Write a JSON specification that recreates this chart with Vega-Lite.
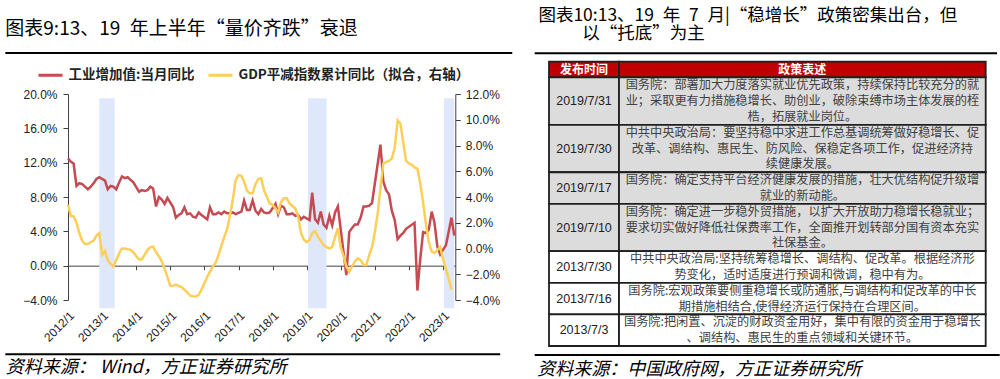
{
  "$schema": "https://vega.github.io/schema/vega-lite/v6.json",
  "background": "white",
  "padding": {"left": 4, "top": 7, "right": 0, "bottom": 0},
  "spacing": 19,
  "config": {
    "view": {"stroke": null},
    "font": "Noto Sans CJK SC",
    "axis": {"labelOverlap": false, "labelBound": false, "labelFlush": false},
    "legend": {"columnPadding": 7, "symbolSize": 580, "labelOffset": 4, "labelFontSize": 13.5}
  },
  "datasets": {
    "ind": [
      {"d":"2012/01/01","v":12.5},{"d":"2012/02/01","v":12.1},{"d":"2012/03/01","v":11.9},{"d":"2012/04/01","v":9.3},{"d":"2012/05/01","v":9.6},{"d":"2012/06/01","v":9.5},{"d":"2012/07/01","v":9.2},{"d":"2012/08/01","v":8.9},{"d":"2012/09/01","v":9.2},{"d":"2012/10/01","v":9.6},{"d":"2012/11/01","v":10.1},{"d":"2012/12/01","v":10.3},
      {"d":"2013/02/01","v":9.9},{"d":"2013/03/01","v":8.9},{"d":"2013/04/01","v":9.3},{"d":"2013/05/01","v":9.2},{"d":"2013/06/01","v":8.9},{"d":"2013/07/01","v":9.7},{"d":"2013/08/01","v":10.4},{"d":"2013/09/01","v":10.2},{"d":"2013/10/01","v":10.3},{"d":"2013/11/01","v":10.0},{"d":"2013/12/01","v":9.7},
      {"d":"2014/02/01","v":8.6},{"d":"2014/03/01","v":8.8},{"d":"2014/04/01","v":8.7},{"d":"2014/05/01","v":8.8},{"d":"2014/06/01","v":9.2},{"d":"2014/07/01","v":9.0},{"d":"2014/08/01","v":6.9},{"d":"2014/09/01","v":8.0},{"d":"2014/10/01","v":7.7},{"d":"2014/11/01","v":7.2},{"d":"2014/12/01","v":7.9},
      {"d":"2015/02/01","v":6.8},{"d":"2015/03/01","v":5.6},{"d":"2015/04/01","v":5.9},{"d":"2015/05/01","v":6.1},{"d":"2015/06/01","v":6.8},{"d":"2015/07/01","v":6.0},{"d":"2015/08/01","v":6.1},{"d":"2015/09/01","v":5.7},{"d":"2015/10/01","v":5.6},{"d":"2015/11/01","v":6.2},{"d":"2015/12/01","v":5.9},
      {"d":"2016/02/01","v":5.4},{"d":"2016/03/01","v":6.8},{"d":"2016/04/01","v":6.0},{"d":"2016/05/01","v":6.0},{"d":"2016/06/01","v":6.2},{"d":"2016/07/01","v":6.0},{"d":"2016/08/01","v":6.3},{"d":"2016/09/01","v":6.1},{"d":"2016/10/01","v":6.1},{"d":"2016/11/01","v":6.2},{"d":"2016/12/01","v":6.0},
      {"d":"2017/02/01","v":6.3},{"d":"2017/03/01","v":7.6},{"d":"2017/04/01","v":6.5},{"d":"2017/05/01","v":6.5},{"d":"2017/06/01","v":7.6},{"d":"2017/07/01","v":6.4},{"d":"2017/08/01","v":6.0},{"d":"2017/09/01","v":6.6},{"d":"2017/10/01","v":6.2},{"d":"2017/11/01","v":6.1},{"d":"2017/12/01","v":6.2},
      {"d":"2018/02/01","v":7.2},{"d":"2018/03/01","v":6.0},{"d":"2018/04/01","v":7.0},{"d":"2018/05/01","v":6.8},{"d":"2018/06/01","v":6.0},{"d":"2018/07/01","v":6.0},{"d":"2018/08/01","v":6.1},{"d":"2018/09/01","v":5.8},{"d":"2018/10/01","v":5.9},{"d":"2018/11/01","v":5.4},{"d":"2018/12/01","v":5.7},
      {"d":"2019/02/01","v":5.3},{"d":"2019/03/01","v":8.5},{"d":"2019/04/01","v":5.4},{"d":"2019/05/01","v":5.0},{"d":"2019/06/01","v":6.3},{"d":"2019/07/01","v":4.8},{"d":"2019/08/01","v":4.4},{"d":"2019/09/01","v":5.8},{"d":"2019/10/01","v":4.7},{"d":"2019/11/01","v":6.2},{"d":"2019/12/01","v":6.9},
      {"d":"2020/03/01","v":-1.1},{"d":"2020/04/01","v":3.9},{"d":"2020/05/01","v":4.4},{"d":"2020/06/01","v":4.8},{"d":"2020/07/01","v":4.8},{"d":"2020/08/01","v":5.6},{"d":"2020/09/01","v":6.9},{"d":"2020/10/01","v":6.9},{"d":"2020/11/01","v":7.0},{"d":"2020/12/01","v":7.3},
      {"d":"2021/03/01","v":14.1},{"d":"2021/04/01","v":9.8},{"d":"2021/05/01","v":8.8},{"d":"2021/06/01","v":8.3},{"d":"2021/07/01","v":6.4},{"d":"2021/08/01","v":5.3},{"d":"2021/09/01","v":3.1},{"d":"2021/10/01","v":3.5},{"d":"2021/11/01","v":3.8},{"d":"2021/12/01","v":4.3},
      {"d":"2022/03/01","v":5.0},{"d":"2022/04/01","v":-2.9},{"d":"2022/05/01","v":0.7},{"d":"2022/06/01","v":3.9},{"d":"2022/07/01","v":3.8},{"d":"2022/08/01","v":4.2},{"d":"2022/09/01","v":6.3},{"d":"2022/10/01","v":5.0},{"d":"2022/11/01","v":2.2},{"d":"2022/12/01","v":1.3},
      {"d":"2023/02/01","v":2.4},{"d":"2023/03/01","v":3.9},{"d":"2023/04/01","v":5.6},{"d":"2023/05/01","v":3.5}
    ],
    "gdp": [
      {"d":"2012/01/01","v":3.4},{"d":"2012/02/01","v":2.5},{"d":"2012/03/01","v":2.5},{"d":"2012/04/01","v":2.0},{"d":"2012/05/01","v":1.2},{"d":"2012/06/01","v":0.6},{"d":"2012/07/01","v":0.35},{"d":"2012/08/01","v":0.35},{"d":"2012/09/01","v":0.5},{"d":"2012/10/01","v":0.6},{"d":"2012/11/01","v":1.0},{"d":"2012/12/01","v":1.2},
      {"d":"2013/01/01","v":-0.5},{"d":"2013/02/01","v":-0.2},{"d":"2013/03/01","v":-0.9},{"d":"2013/04/01","v":-1.2},{"d":"2013/05/01","v":-1.4},{"d":"2013/06/01","v":-0.9},{"d":"2013/07/01","v":-0.4},{"d":"2013/08/01","v":0.0},{"d":"2013/09/01","v":0.0},{"d":"2013/10/01","v":-0.05},{"d":"2013/11/01","v":-0.1},{"d":"2013/12/01","v":-0.3},
      {"d":"2014/01/01","v":-0.6},{"d":"2014/02/01","v":-0.85},{"d":"2014/03/01","v":-0.85},{"d":"2014/04/01","v":-0.5},{"d":"2014/05/01","v":-0.1},{"d":"2014/06/01","v":0.1},{"d":"2014/07/01","v":0.14},{"d":"2014/08/01","v":-0.3},{"d":"2014/09/01","v":-0.6},{"d":"2014/10/01","v":-1.0},{"d":"2014/11/01","v":-1.6},{"d":"2014/12/01","v":-2.2},
      {"d":"2015/01/01","v":-2.9},{"d":"2015/02/01","v":-2.9},{"d":"2015/03/01","v":-2.8},{"d":"2015/04/01","v":-2.9},{"d":"2015/05/01","v":-3.0},{"d":"2015/06/01","v":-3.2},{"d":"2015/07/01","v":-3.4},{"d":"2015/08/01","v":-3.65},{"d":"2015/09/01","v":-3.7},{"d":"2015/10/01","v":-3.72},{"d":"2015/11/01","v":-3.6},{"d":"2015/12/01","v":-3.2},
      {"d":"2016/01/01","v":-2.7},{"d":"2016/02/01","v":-2.2},{"d":"2016/03/01","v":-1.8},{"d":"2016/04/01","v":-1.4},{"d":"2016/05/01","v":-1.1},{"d":"2016/06/01","v":-0.5},{"d":"2016/07/01","v":0.2},{"d":"2016/08/01","v":0.9},{"d":"2016/09/01","v":1.5},{"d":"2016/10/01","v":2.6},{"d":"2016/11/01","v":3.8},{"d":"2016/12/01","v":5.3},
      {"d":"2017/01/01","v":5.7},{"d":"2017/02/01","v":5.65},{"d":"2017/03/01","v":5.2},{"d":"2017/04/01","v":4.5},{"d":"2017/05/01","v":4.3},{"d":"2017/06/01","v":4.3},{"d":"2017/07/01","v":5.0},{"d":"2017/08/01","v":5.4},{"d":"2017/09/01","v":5.45},{"d":"2017/10/01","v":4.5},{"d":"2017/11/01","v":4.0},{"d":"2017/12/01","v":3.5},
      {"d":"2018/01/01","v":3.4},{"d":"2018/02/01","v":3.1},{"d":"2018/03/01","v":2.8},{"d":"2018/04/01","v":3.6},{"d":"2018/05/01","v":3.9},{"d":"2018/06/01","v":3.9},{"d":"2018/07/01","v":3.5},{"d":"2018/08/01","v":3.3},{"d":"2018/09/01","v":3.1},{"d":"2018/10/01","v":2.5},{"d":"2018/11/01","v":1.2},{"d":"2018/12/01","v":0.7},
      {"d":"2019/01/01","v":0.5},{"d":"2019/02/01","v":0.66},{"d":"2019/03/01","v":1.2},{"d":"2019/04/01","v":1.35},{"d":"2019/05/01","v":0.92},{"d":"2019/06/01","v":0.6},{"d":"2019/07/01","v":0.27},{"d":"2019/08/01","v":0.1},{"d":"2019/09/01","v":0.0},{"d":"2019/10/01","v":0.1},{"d":"2019/11/01","v":0.9},{"d":"2019/12/01","v":1.57},
      {"d":"2020/01/01","v":0.1},{"d":"2020/02/01","v":-0.6},{"d":"2020/03/01","v":-1.41},{"d":"2020/04/01","v":-1.8},{"d":"2020/05/01","v":-1.4},{"d":"2020/06/01","v":-1.0},{"d":"2020/07/01","v":-0.76},{"d":"2020/08/01","v":-0.9},{"d":"2020/09/01","v":-1.28},{"d":"2020/10/01","v":-1.28},{"d":"2020/11/01","v":-0.5},{"d":"2020/12/01","v":0.1},
      {"d":"2021/01/01","v":1.3},{"d":"2021/02/01","v":2.8},{"d":"2021/03/01","v":4.7},{"d":"2021/04/01","v":6.6},{"d":"2021/05/01","v":6.7},{"d":"2021/06/01","v":6.8},{"d":"2021/07/01","v":7.0},{"d":"2021/08/01","v":7.8},{"d":"2021/09/01","v":9.95},{"d":"2021/10/01","v":9.7},{"d":"2021/11/01","v":8.2},{"d":"2021/12/01","v":6.8},
      {"d":"2022/01/01","v":6.6},{"d":"2022/02/01","v":6.5},{"d":"2022/03/01","v":6.3},{"d":"2022/04/01","v":6.2},{"d":"2022/05/01","v":5.06},{"d":"2022/06/01","v":3.6},{"d":"2022/07/01","v":1.9},{"d":"2022/08/01","v":0.5},{"d":"2022/09/01","v":-0.25},{"d":"2022/10/01","v":-0.35},{"d":"2022/11/01","v":-0.1},{"d":"2022/12/01","v":0.1},
      {"d":"2023/01/01","v":-0.8},{"d":"2023/02/01","v":-1.6},{"d":"2023/03/01","v":-2.3},{"d":"2023/04/01","v":-3.2}
    ],
    "bands": [
      {"s":"2012/12/01","e":"2013/05/15"},
      {"s":"2019/01/15","e":"2019/08/01"},
      {"s":"2023/01/10","e":"2023/05/01"}
    ],
    "tbl": [
      {"row":0,"ln":1,"kind":"h","date":"发布时间","text":"政策表述"},
      {"row":1,"ln":1,"kind":"g","date":"2019/7/31","text":"国务院：部署加大力度落实就业优先政策，持续保持比较充分的就"},
      {"row":1,"ln":2,"kind":"g","date":"2019/7/31","text":"业；采取更有力措施稳增长、助创业，破除束缚市场主体发展的桎"},
      {"row":1,"ln":3,"kind":"g","date":"2019/7/31","text":"梏，拓展就业岗位。"},
      {"row":2,"ln":1,"kind":"g","date":"2019/7/30","text":"中共中央政治局：要坚持稳中求进工作总基调统筹做好稳增长、促"},
      {"row":2,"ln":2,"kind":"g","date":"2019/7/30","text":"改革、调结构、惠民生、防风险、保稳定各项工作，促进经济持"},
      {"row":2,"ln":3,"kind":"g","date":"2019/7/30","text":"续健康发展。"},
      {"row":3,"ln":1,"kind":"g","date":"2019/7/17","text":"国务院：确定支持平台经济健康发展的措施，壮大优结构促升级增"},
      {"row":3,"ln":2,"kind":"g","date":"2019/7/17","text":"就业的新动能。"},
      {"row":4,"ln":1,"kind":"g","date":"2019/7/10","text":"国务院：确定进一步稳外贸措施，以扩大开放助力稳增长稳就业；"},
      {"row":4,"ln":2,"kind":"g","date":"2019/7/10","text":"要求切实做好降低社保费率工作，全面推开划转部分国有资本充实"},
      {"row":4,"ln":3,"kind":"g","date":"2019/7/10","text":"社保基金。"},
      {"row":5,"ln":1,"kind":"w","date":"2013/7/30","text":"中共中央政治局:坚持统筹稳增长、调结构、促改革。根据经济形"},
      {"row":5,"ln":2,"kind":"w","date":"2013/7/30","text":"势变化，适时适度进行预调和微调，稳中有为。"},
      {"row":6,"ln":1,"kind":"w","date":"2013/7/16","text":"国务院:宏观政策要侧重稳增长或防通胀,与调结构和促改革的中长"},
      {"row":6,"ln":2,"kind":"w","date":"2013/7/16","text":"期措施相结合,使得经济运行保持在合理区间。"},
      {"row":7,"ln":1,"kind":"w","date":"2013/7/3","text":"国务院:把闲置、沉淀的财政资金用好，集中有限的资金用于稳增长"},
      {"row":7,"ln":2,"kind":"w","date":"2013/7/3","text":"、调结构、惠民生的重点领域和关键环节。"}
    ]
  },
  "hconcat": [
    {
      "width": 387.3,
      "height": 206,
      "title": {"text": "图表9:13、19\u2002年上半年“量价齐跌”衰退", "anchor": "start", "frame": "group", "dx": -62.7, "offset": 13, "fontSize": 19, "fontWeight": "normal", "font": "Noto Sans CJK SC", "color": "#000000"},
      "resolve": {"scale": {"x": "independent", "y": "independent", "color": "independent"}},
      "layer": [
        {
          "data": {"name": "bands"},
          "mark": {"type": "rect", "color": "#dfe8fb"},
          "encoding": {
            "x": {"field": "s", "type": "temporal", "scale": {"domain": [{"year": 2012, "month": 1, "date": 1}, {"year": 2023, "month": 5, "date": 12}], "nice": false}, "axis": null},
            "x2": {"field": "e"},
            "y": {"datum": 19.5, "type": "quantitative", "scale": {"domain": [-4, 20], "nice": false, "zero": false}, "axis": null},
            "y2": {"datum": -4.95}
          }
        },
        {
          "data": {"values": [{}]},
          "mark": {"type": "rule", "color": "#000000", "strokeWidth": 2},
          "encoding": {
            "x": {"datum": {"year": 2010, "month": 3, "date": 1}, "type": "temporal", "scale": {"domain": [{"year": 2012, "month": 1, "date": 1}, {"year": 2023, "month": 5, "date": 12}], "nice": false}, "axis": null},
            "x2": {"datum": {"year": 2025, "month": 1, "date": 11}},
            "y": {"datum": 24.78, "type": "quantitative", "scale": {"domain": [-4, 20], "nice": false, "zero": false}, "axis": null}
          }
        },
        {
          "data": {"values": [{}]},
          "mark": {"type": "rule", "color": "#000000", "strokeWidth": 2},
          "encoding": {
            "x": {"datum": {"year": 2010, "month": 3, "date": 1}, "type": "temporal", "scale": {"domain": [{"year": 2012, "month": 1, "date": 1}, {"year": 2023, "month": 5, "date": 12}], "nice": false}, "axis": null},
            "x2": {"datum": {"year": 2024, "month": 9, "date": 4}},
            "y": {"datum": -10.33, "type": "quantitative", "scale": {"domain": [-4, 20], "nice": false, "zero": false}, "axis": null}
          }
        },
        {
          "data": {"name": "ind"},
          "mark": {"type": "line", "strokeWidth": 2.5},
          "encoding": {
            "x": {
              "field": "d", "type": "temporal",
              "scale": {"domain": [{"year": 2012, "month": 1, "date": 1}, {"year": 2023, "month": 5, "date": 12}], "nice": false},
              "axis": {
                "orient": "bottom", "offset": -34.33,
                "values": [{"year": 2012, "month": 1, "date": 1}, {"year": 2013, "month": 1, "date": 1}, {"year": 2014, "month": 1, "date": 1}, {"year": 2015, "month": 1, "date": 1}, {"year": 2016, "month": 1, "date": 1}, {"year": 2017, "month": 1, "date": 1}, {"year": 2018, "month": 1, "date": 1}, {"year": 2019, "month": 1, "date": 1}, {"year": 2020, "month": 1, "date": 1}, {"year": 2021, "month": 1, "date": 1}, {"year": 2022, "month": 1, "date": 1}, {"year": 2023, "month": 1, "date": 1}],
                "format": "%Y/%-m", "formatType": "time",
                "labelAngle": -45, "labelAlign": "right", "labelBaseline": "top", "labelPadding": 40,
                "tickSize": 4, "domainColor": "#404040", "tickColor": "#404040",
                "labelFont": "Liberation Sans", "labelFontSize": 12, "labelColor": "#222222", "labelOverlap": false,
                "grid": false,
                "title": "资料来源： Wind，方正证券研究所",
                "titleX": -62.7, "titleY": 102.3, "titleAlign": "left", "titleBaseline": "middle", "titleAngle": 0,
                "titleFont": "Noto Sans CJK SC", "titleFontSize": 18, "titleFontStyle": "italic", "titleFontWeight": "normal", "titleColor": "#000000"
              }
            },
            "y": {
              "field": "v", "type": "quantitative",
              "scale": {"domain": [-4, 20], "nice": false, "zero": false},
              "axis": {"orient": "left", "values": [-4, 0, 4, 8, 12, 16, 20], "labelExpr": "format(datum.value, '.1f') + '%'", "labelOverlap": false, "tickSize": 5, "labelPadding": 6, "domainColor": "#404040", "tickColor": "#404040", "labelFont": "Liberation Sans", "labelFontSize": 12, "labelColor": "#222222", "grid": false, "title": null}
            },
            "color": {
              "datum": "工业增加值:当月同比",
              "scale": {"domain": ["工业增加值:当月同比", "GDP平减指数累计同比（拟合，右轴）"], "range": ["#c44b52", "#fdcf58"]},
              "legend": {"orient": "none", "legendX": -31.5, "legendY": -33, "direction": "horizontal", "title": null, "symbolType": "stroke", "symbolStrokeWidth": 3, "symbolSize": 580, "labelFont": "Noto Sans CJK SC", "labelFontSize": 13.5, "labelFontWeight": "bold", "labelColor": "#222222", "labelOffset": 4, "columnPadding": 7, "labelLimit": 400}
            }
          }
        },
        {
          "data": {"name": "gdp"},
          "mark": {"type": "line", "strokeWidth": 2.5, "color": "#fdcf58"},
          "encoding": {
            "x": {"field": "d", "type": "temporal", "scale": {"domain": [{"year": 2012, "month": 1, "date": 1}, {"year": 2023, "month": 5, "date": 12}], "nice": false}, "axis": null},
            "y": {
              "field": "v", "type": "quantitative",
              "scale": {"domain": [-4, 12], "nice": false, "zero": false},
              "axis": {"orient": "right", "values": [-4, -2, 0, 2, 4, 6, 8, 10, 12], "labelExpr": "format(datum.value, '.1f') + '%'", "labelOverlap": false, "tickSize": 5, "labelPadding": 5, "domainColor": "#404040", "tickColor": "#404040", "labelFont": "Liberation Sans", "labelFontSize": 12, "labelColor": "#222222", "grid": false, "title": null}
            }
          }
        }
      ]
    },
    {
      "width": 436.7,
      "height": 252,
      "title": {"text": ["图表10:13、19\u2002年\u20027\u2002月|“稳增长”政策密集出台，但", "\u200b\u3000\u3000\u2002以“托底”为主"], "anchor": "start", "frame": "group", "dx": -10.6, "offset": 10, "fontSize": 17.5, "lineHeight": 17.7, "fontWeight": "normal", "font": "Noto Sans CJK SC", "color": "#000000"},
      "data": {"name": "tbl"},
      "transform": [
        {"window": [{"op": "row_number", "as": "k"}], "sort": [{"field": "row", "order": "ascending"}, {"field": "ln", "order": "ascending"}]}
      ],
      "resolve": {"scale": {"x": "independent", "y": "independent"}},
      "layer": [
        {
          "transform": [{"aggregate": [{"op": "min", "field": "k", "as": "k1"}, {"op": "max", "field": "k", "as": "k2"}], "groupby": ["row", "kind"]}],
          "mark": {"type": "rect", "stroke": "#1f1f1f", "strokeWidth": 1.8, "yOffset": -7.9, "y2Offset": 7.9},
          "encoding": {
            "x": {
              "datum": 0, "type": "quantitative", "scale": {"domain": [0, 436.7], "nice": false, "zero": false},
              "axis": {"domain": false, "ticks": false, "labels": false, "grid": false, "title": "资料来源：中国政府网，方正证券研究所", "titleX": -12.3, "titleY": 23, "titleAlign": "left", "titleBaseline": "middle", "titleAngle": 0, "titleFont": "Noto Sans CJK SC", "titleFontSize": 18, "titleFontStyle": "italic", "titleFontWeight": "normal", "titleColor": "#000000"}
            },
            "x2": {"datum": 70},
            "y": {"field": "k1", "type": "quantitative", "scale": {"domain": [2.547, 18.5], "reverse": true, "nice": false, "zero": false}, "axis": null},
            "y2": {"field": "k2"},
            "fill": {"field": "kind", "type": "nominal", "scale": {"domain": ["h", "g", "w"], "range": ["#c00000", "#dcdcdc", "#ffffff"]}, "legend": null}
          }
        },
        {
          "transform": [{"aggregate": [{"op": "min", "field": "k", "as": "k1"}, {"op": "max", "field": "k", "as": "k2"}], "groupby": ["row", "kind"]}],
          "mark": {"type": "rect", "stroke": "#1f1f1f", "strokeWidth": 1.8, "yOffset": -7.9, "y2Offset": 7.9},
          "encoding": {
            "x": {"datum": 70, "type": "quantitative", "scale": {"domain": [0, 436.7], "nice": false, "zero": false}, "axis": null},
            "x2": {"datum": 436.7},
            "y": {"field": "k1", "type": "quantitative", "scale": {"domain": [2.547, 18.5], "reverse": true, "nice": false, "zero": false}, "axis": null},
            "y2": {"field": "k2"},
            "fill": {"field": "kind", "type": "nominal", "scale": {"domain": ["h", "g", "w"], "range": ["#c00000", "#dcdcdc", "#ffffff"]}, "legend": null}
          }
        },
        {
          "transform": [{"filter": "datum.row > 0"}],
          "mark": {"type": "text", "font": "Noto Sans CJK SC", "fontSize": 12.2, "color": "#404040", "align": "center", "baseline": "middle"},
          "encoding": {
            "x": {"datum": 253.35, "type": "quantitative", "scale": {"domain": [0, 436.7], "nice": false, "zero": false}, "axis": null},
            "y": {"field": "k", "type": "quantitative", "scale": {"domain": [2.547, 18.5], "reverse": true, "nice": false, "zero": false}, "axis": null},
            "text": {"field": "text"}
          }
        },
        {
          "transform": [{"filter": "datum.row == 0"}],
          "mark": {"type": "text", "font": "Noto Sans CJK SC", "fontSize": 12, "fontWeight": "bold", "color": "#ffffff", "align": "center", "baseline": "middle"},
          "encoding": {
            "x": {"datum": 253.35, "type": "quantitative", "scale": {"domain": [0, 436.7], "nice": false, "zero": false}, "axis": null},
            "y": {"field": "k", "type": "quantitative", "scale": {"domain": [2.547, 18.5], "reverse": true, "nice": false, "zero": false}, "axis": null},
            "text": {"field": "text"}
          }
        },
        {
          "transform": [{"aggregate": [{"op": "mean", "field": "k", "as": "km"}], "groupby": ["row", "date"]}, {"filter": "datum.row > 0"}],
          "mark": {"type": "text", "font": "Liberation Sans", "fontSize": 12.5, "color": "#222222", "align": "center", "baseline": "middle"},
          "encoding": {
            "x": {"datum": 35, "type": "quantitative", "scale": {"domain": [0, 436.7], "nice": false, "zero": false}, "axis": null},
            "y": {"field": "km", "type": "quantitative", "scale": {"domain": [2.547, 18.5], "reverse": true, "nice": false, "zero": false}, "axis": null},
            "text": {"field": "date"}
          }
        },
        {
          "transform": [{"filter": "datum.row == 0"}],
          "mark": {"type": "text", "font": "Noto Sans CJK SC", "fontSize": 12, "fontWeight": "bold", "color": "#ffffff", "align": "center", "baseline": "middle"},
          "encoding": {
            "x": {"datum": 35, "type": "quantitative", "scale": {"domain": [0, 436.7], "nice": false, "zero": false}, "axis": null},
            "y": {"field": "k", "type": "quantitative", "scale": {"domain": [2.547, 18.5], "reverse": true, "nice": false, "zero": false}, "axis": null},
            "text": {"field": "date"}
          }
        },
        {
          "data": {"values": [{}]},
          "mark": {"type": "rule", "color": "#000000", "strokeWidth": 2},
          "encoding": {
            "x": {"datum": -14.3, "type": "quantitative", "scale": {"domain": [0, 436.7], "nice": false, "zero": false}, "axis": null},
            "x2": {"datum": 448},
            "y": {"datum": -0.03, "type": "quantitative", "scale": {"domain": [2.547, 18.5], "reverse": true, "nice": false, "zero": false}, "axis": null}
          }
        },
        {
          "data": {"values": [{}]},
          "mark": {"type": "rule", "color": "#000000", "strokeWidth": 2},
          "encoding": {
            "x": {"datum": -14.3, "type": "quantitative", "scale": {"domain": [0, 436.7], "nice": false, "zero": false}, "axis": null},
            "x2": {"datum": 450.7},
            "y": {"datum": 19.07, "type": "quantitative", "scale": {"domain": [2.547, 18.5], "reverse": true, "nice": false, "zero": false}, "axis": null}
          }
        }
      ]
    }
  ]
}
